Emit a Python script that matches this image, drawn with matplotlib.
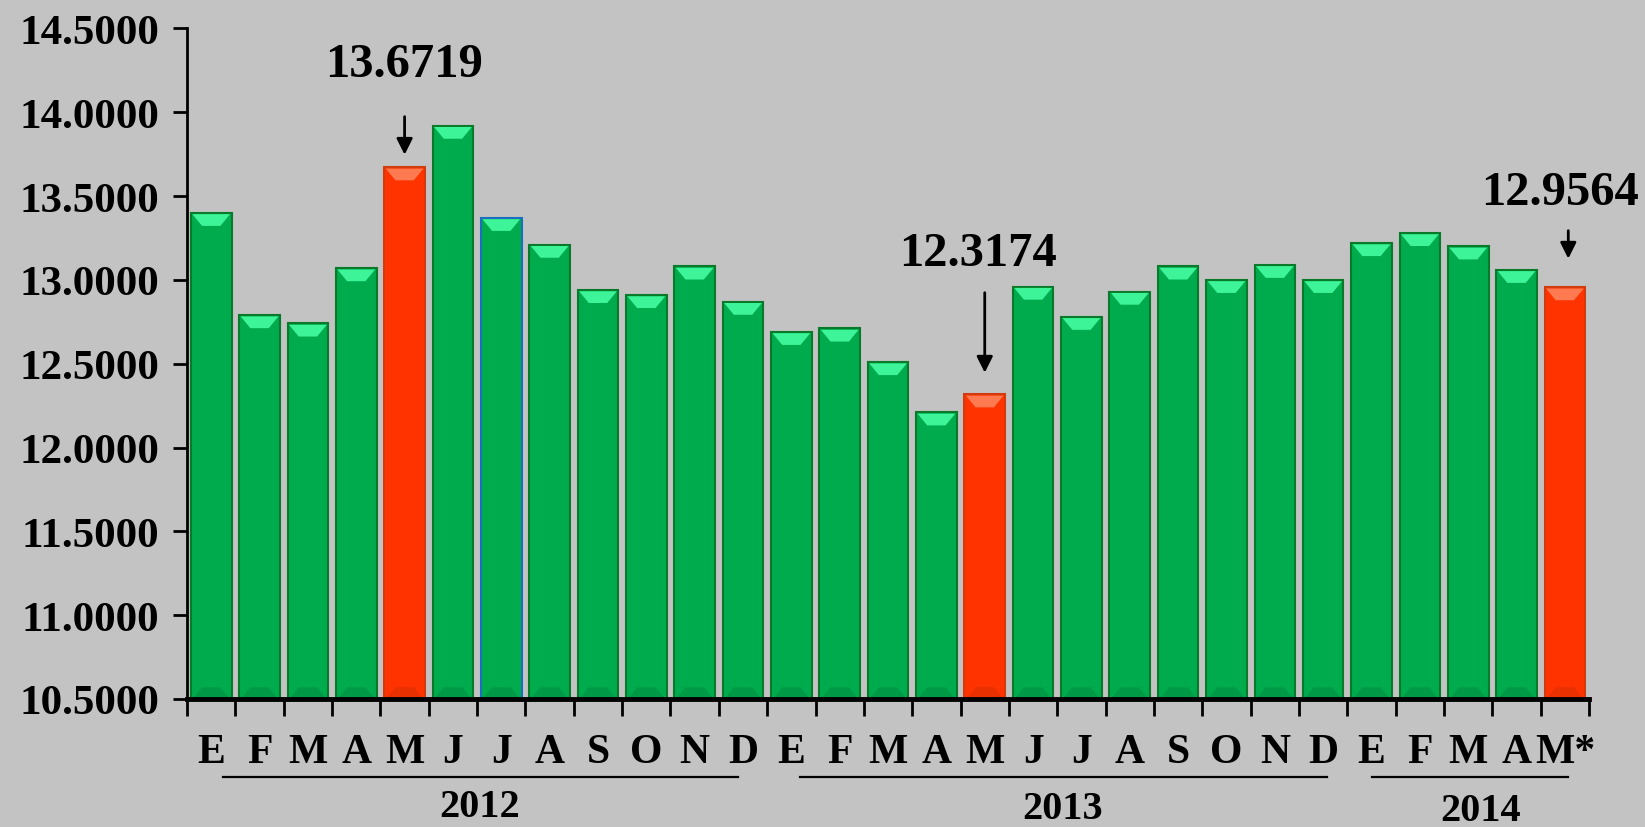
import matplotlib
matplotlib.use("Agg")
import matplotlib.pyplot as plt
from matplotlib.patches import Polygon
import numpy as np

months = ["E","F","M","A","M","J","J","A","S","O","N","D",
          "E","F","M","A","M","J","J","A","S","O","N","D",
          "E","F","M","A","M*"]
values = [13.40, 12.79, 12.74, 13.07, 13.6719, 13.92, 13.37, 13.21, 12.94, 12.91, 13.08, 12.87,
          12.69, 12.71, 12.51, 12.21, 12.3174, 12.96, 12.78, 12.93, 13.08, 13.00, 13.09, 13.00,
          13.22, 13.28, 13.20, 13.06, 12.9564]
highlight_idx = [4, 16, 28]
years = ["2012", "2013", "2014"]
year_spans = [(0.74, 11.39), (12.67, 23.58), (24.51, 28.57)]
year_centers = [6.05, 18.1, 26.75]
yticks = [10.5, 11.0, 11.5, 12.0, 12.5, 13.0, 13.5, 14.0, 14.5]

BG = "#c3c3c3"
GREEN = "#00ab4e"
GREEN_EDGE = "#0a7a2a"
RED = "#ff3300"
RED_EDGE = "#d23a10"

plt.rcParams['font.family'] = ['Liberation Serif', 'DejaVu Serif']
plt.rcParams['font.weight'] = 'bold'

fig = plt.figure(figsize=(16.45, 8.28), dpi=100, facecolor=BG)
ax = fig.add_axes([0.1137, 0.1546, 0.8523, 0.8099])
ax.set_facecolor(BG)

n = len(values)
x = np.arange(n) + 0.5
colors = [RED if i in highlight_idx else GREEN for i in range(n)]
edges = [RED_EDGE if i in highlight_idx else GREEN_EDGE for i in range(n)]
edges[6] = "#1a6fc0"
width = 0.84
bars = ax.bar(x, np.array(values) - 10.5, bottom=10.5, width=width, color=colors,
              edgecolor=edges, linewidth=1.5, zorder=2)

# bevel highlight on top of each bar
bev_h = 0.07
bev_w = 0.2
for i, (xi, v) in enumerate(zip(x, values)):
    lc = "#ff7a50" if i in highlight_idx else "#3df598"
    dc = "#e83000" if i in highlight_idx else "#009a47"
    left, right = xi - width / 2 + 0.03, xi + width / 2 - 0.03
    top = v - 0.008
    ax.add_patch(Polygon([[left, top], [right, top], [right - bev_w, top - bev_h], [left + bev_w, top - bev_h]],
                         closed=True, facecolor=lc, edgecolor='none', zorder=3))
    ax.add_patch(Polygon([[left, 10.5], [right, 10.5], [right - bev_w, 10.5 + bev_h], [left + bev_w, 10.5 + bev_h]],
                         closed=True, facecolor=dc, edgecolor='none', zorder=3))

ax.set_xlim(0, n)
ax.set_ylim(10.5, 14.5)
ax.set_yticks(yticks)
ax.set_yticklabels([f"{t:.4f}" for t in yticks], fontsize=31, fontweight='bold')
ax.set_xticks(np.arange(n + 1))
ax.set_xticklabels([])
ax.tick_params(axis='y', direction='out', length=10, width=2, pad=10)
ax.tick_params(axis='x', direction='out', length=12, width=2)
for s in ['top', 'right']:
    ax.spines[s].set_visible(False)
ax.spines['left'].set_linewidth(2)
ax.spines['bottom'].set_linewidth(3.5)
ax.spines['bottom'].set_zorder(4)

trans = ax.get_xaxis_transform()
for xi, m in zip(x, months):
    ax.text(xi, -0.079, m, transform=trans, ha='center', va='center', fontsize=30,
            fontweight='bold', clip_on=False)
for (a, b) in year_spans:
    ax.plot([a, b], [-0.1165, -0.1165], transform=trans, color='black', lw=1.6, clip_on=False)
yr_y = [-0.160, -0.163, -0.166]
for yr, c, yy in zip(years, year_centers, yr_y):
    ax.text(c, yy, yr, transform=trans, ha='center', va='center', fontsize=29,
            fontweight='bold', clip_on=False)

# annotations
ann = [(4, 4.49, 14.29, 13.99, 13.73),
       (16, 16.36, 13.16, 12.94, 12.43),
       (28, 28.4, 13.525, 13.31, 13.11)]
for idx, tx, ty, a0, a1 in ann:
    ax.text(tx, ty, f"{values[idx]:.4f}", ha='center', va='center', fontsize=35,
            fontweight='bold', zorder=5, clip_on=False)
    xa = x[idx] + (0.07 if idx == 28 else 0)
    ax.annotate("", xy=(xa, a1), xytext=(xa, a0),
                arrowprops=dict(arrowstyle='-|>', color='black', lw=2, mutation_scale=24),
                zorder=5, annotation_clip=False)

fig.savefig("out.png", dpi=100, facecolor=BG)
